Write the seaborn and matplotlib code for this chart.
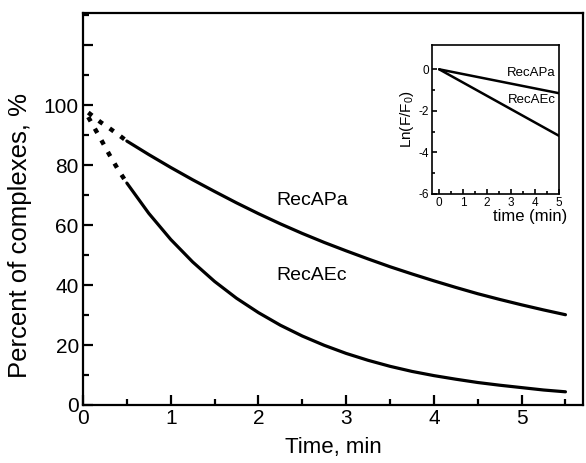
import numpy as np
import pandas as pd
import seaborn as sns
import matplotlib
matplotlib.use("Agg")
import matplotlib.pyplot as plt
from matplotlib.ticker import FixedLocator, FuncFormatter

# ---- data ----
t_dot = [0.06, 0.2, 0.3, 0.4, 0.5]
pa_dot = [97.5, 94.3, 92.3, 90.2, 88.0]
ec_dot = [96.0, 88.8, 83.5, 78.5, 74.0]

t_solid = [0.5, 0.75, 1.0, 1.25, 1.5, 1.75, 2.0, 2.25, 2.5, 2.75, 3.0,
           3.25, 3.5, 3.75, 4.0, 4.25, 4.5, 4.75, 5.0, 5.25, 5.5]
pa_solid = [88.0, 83.5, 79.2, 75.1, 71.2, 67.4, 63.8, 60.4, 57.2, 54.2, 51.4,
            48.7, 46.1, 43.7, 41.4, 39.2, 37.1, 35.2, 33.4, 31.7, 30.1]
ec_solid = [74.0, 63.9, 55.2, 47.7, 41.2, 35.6, 30.8, 26.6, 23.0, 19.9, 17.2,
            14.9, 12.9, 11.2, 9.8, 8.6, 7.5, 6.6, 5.8, 5.0, 4.4]

inset_t = [0, 5]
inset_pa = [0, -1.15]
inset_ec = [0, -3.2]

labels = ["RecAPa", "RecAEc"]
main_xticks = [0, 1, 2, 3, 4, 5]
main_yticks = [0, 20, 40, 60, 80, 100, 120]
inset_xticks = [0, 1, 2, 3, 4, 5]
inset_yticks = [-6, -4, -2, 0]

sns.set_style("ticks")
plt.rcParams["font.family"] = ["Liberation Sans", "DejaVu Sans"]
plt.rcParams["axes.unicode_minus"] = False
plt.rcParams["mathtext.fontset"] = "custom"
plt.rcParams["mathtext.rm"] = "Liberation Sans"
plt.rcParams["mathtext.it"] = "Liberation Sans"
for k in ["text.color", "axes.labelcolor", "xtick.color", "ytick.color", "axes.edgecolor"]:
    plt.rcParams[k] = "black"

fig = plt.figure(figsize=(5.86, 4.63), dpi=100)
ax = fig.add_axes([83/586, 1-405/463, (583-83)/586, (405-13)/463])

df_dot = pd.DataFrame({"t": t_dot * 2, "v": pa_dot + ec_dot,
                       "s": [labels[0]] * len(t_dot) + [labels[1]] * len(t_dot)})
df_sol = pd.DataFrame({"t": t_solid * 2, "v": pa_solid + ec_solid,
                       "s": [labels[0]] * len(t_solid) + [labels[1]] * len(t_solid)})

for name in labels:
    d = df_dot[df_dot.s == name]
    sns.lineplot(data=d, x="t", y="v", ax=ax, color="black", lw=3.2,
                 linestyle=(0, (1.1, 1.9)), dash_capstyle="butt", legend=False)
    d = df_sol[df_sol.s == name]
    sns.lineplot(data=d, x="t", y="v", ax=ax, color="black", lw=2.3, legend=False)

ax.set_xlim(0, 5.7)
ax.set_ylim(0, 130.7)
ax.xaxis.set_major_locator(FixedLocator(main_xticks))
ax.xaxis.set_minor_locator(FixedLocator([0.5, 1.5, 2.5, 3.5, 4.5, 5.5]))
ax.yaxis.set_major_locator(FixedLocator(main_yticks))
ax.yaxis.set_minor_locator(FixedLocator([10, 30, 50, 70, 90, 110, 130]))
ax.yaxis.set_major_formatter(FuncFormatter(lambda v, p: "" if v > 100 else f"{v:g}"))
ax.tick_params(which="major", direction="in", length=7, width=1.6, labelsize=15, pad=3)
ax.tick_params(which="minor", direction="in", length=4, width=1.6)
ax.tick_params(axis="y", which="both", right=False)
ax.tick_params(axis="x", which="both", top=False)
for sp in ax.spines.values():
    sp.set_linewidth(1.6)
    sp.set_visible(True)
ax.set_xlabel("Time, min", fontsize=16)
ax.xaxis.set_label_coords(0.5, (405-437)/392, transform=ax.transAxes)
ax.xaxis.label.set_va("top")
ax.set_ylabel("Percent of complexes, %", fontsize=18.5)
ax.yaxis.set_label_coords((20-83)/500, (405-236)/392, transform=ax.transAxes)
ax.yaxis.label.set_va("center")

ax.text(2.61, 68.3, labels[0], fontsize=14, ha="center", va="center")
ax.text(2.61, 43.3, labels[1], fontsize=14, ha="center", va="center")

# ---- inset ----
ins = fig.add_axes([432/586, 1-194/463, (559-432)/586, (194-45)/463])
df_in = pd.DataFrame({"t": inset_t * 2, "v": inset_pa + inset_ec,
                      "s": [labels[0]] * 2 + [labels[1]] * 2})
for name in labels:
    sns.lineplot(data=df_in[df_in.s == name], x="t", y="v", ax=ins,
                 color="black", lw=1.8, legend=False)
ins.set_xlim(-0.3, 5)
ins.set_ylim(-6, 1.17)
ins.xaxis.set_major_locator(FixedLocator(inset_xticks))
ins.xaxis.set_minor_locator(FixedLocator([0.5, 1.5, 2.5, 3.5, 4.5]))
ins.yaxis.set_major_locator(FixedLocator(inset_yticks))
ins.yaxis.set_minor_locator(FixedLocator([-5, -3, -1]))
ins.tick_params(which="major", direction="in", length=3.5, width=1.2, labelsize=8.5, pad=2)
ins.tick_params(which="minor", direction="in", length=2, width=1.2)
ins.tick_params(axis="x", which="both", top=False)
ins.tick_params(axis="y", which="both", right=False)
for sp in ins.spines.values():
    sp.set_linewidth(1.2)
    sp.set_visible(True)
ins.set_xlabel("time (min)", fontsize=12)
ins.xaxis.set_label_coords(0.77, -0.1, transform=ins.transAxes)
ins.xaxis.label.set_va("top")
ins.set_ylabel("Ln(F/F$_0$)", fontsize=11, labelpad=2)
ins.text(3.83, -0.2, labels[0], fontsize=9.5, ha="center", va="center")
ins.text(3.88, -1.5, labels[1], fontsize=9.5, ha="center", va="center")

fig.savefig("out.png", dpi=100)
